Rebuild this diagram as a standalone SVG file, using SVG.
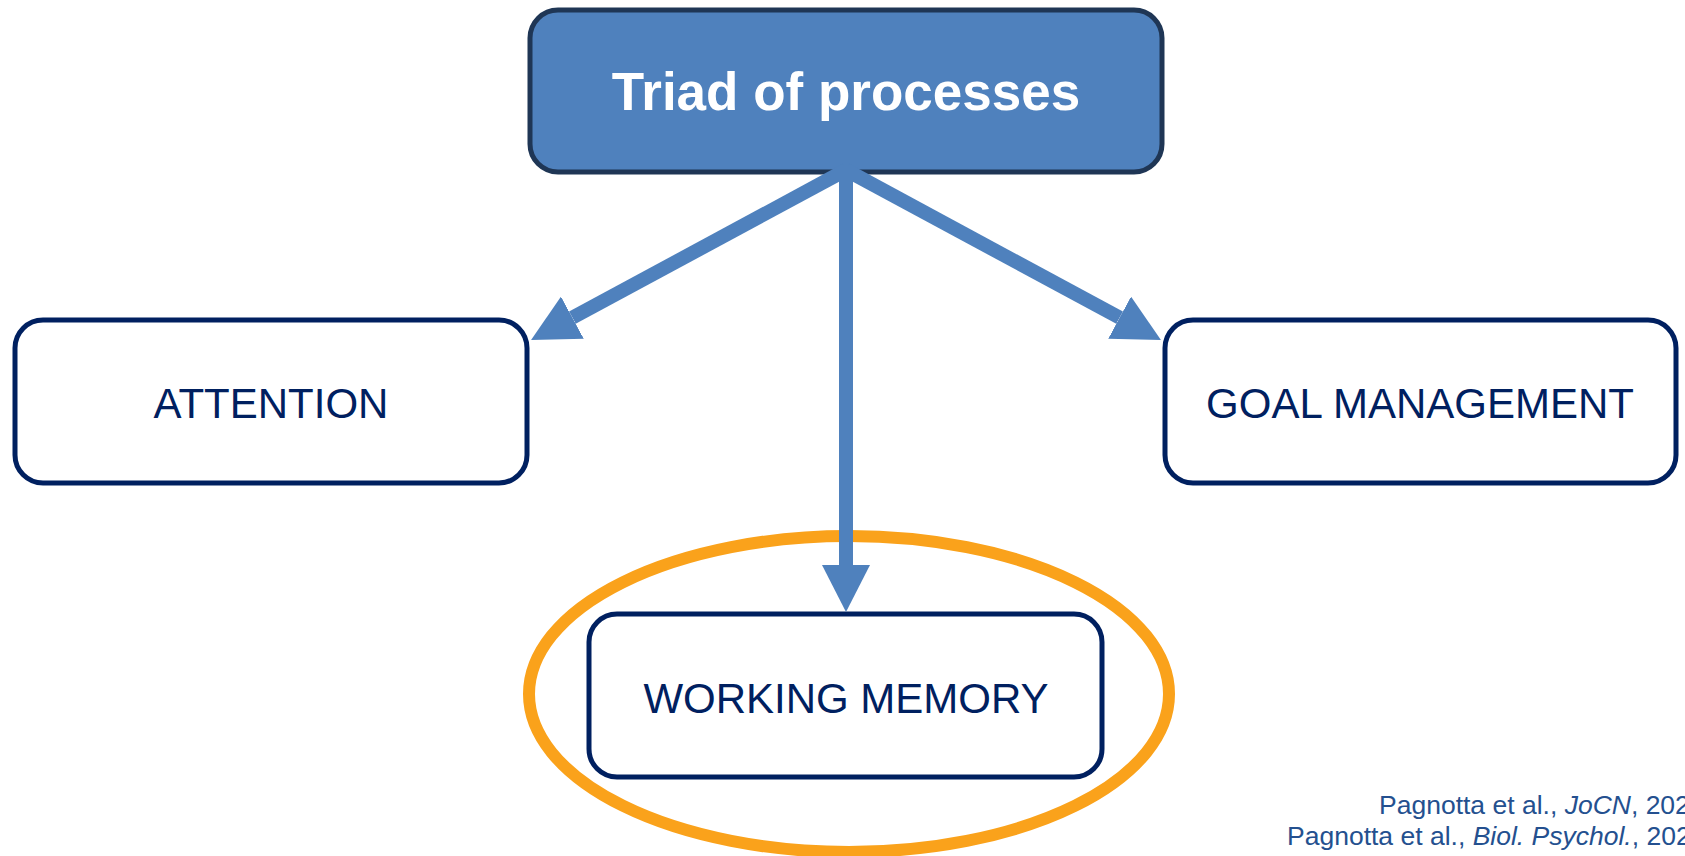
<svg xmlns="http://www.w3.org/2000/svg" width="1685" height="856" viewBox="0 0 1685 856">
  <defs>
    <style>
      .box { fill: #ffffff; stroke: #002060; stroke-width: 5; }
      .label { font-family: "Liberation Sans", Arial, sans-serif; font-size: 42px; fill: #002060; text-anchor: middle; }
      .title { font-family: "Liberation Sans", Arial, sans-serif; font-size: 53px; font-weight: bold; fill: #ffffff; text-anchor: middle; }
      .link { stroke: #4F81BD; stroke-width: 14; fill: none; }
      .cite { font-family: "Liberation Sans", Arial, sans-serif; font-size: 26.5px; fill: #24508F; }
    </style>
    <marker id="arrowhead" markerUnits="userSpaceOnUse" markerWidth="48" markerHeight="48" refX="0" refY="24" orient="auto" viewBox="0 0 48 48">
      <path d="M0,0 L47,24 L0,48 Z" fill="#4F81BD"/>
    </marker>
  </defs>

  <rect width="1685" height="856" fill="#ffffff"/>

  <!-- highlight ring around the working-memory node -->
  <ellipse id="highlight" cx="849" cy="694" rx="320" ry="158" fill="none" stroke="#FAA21B" stroke-width="12"/>

  <g id="triad">
    <rect x="530" y="10" width="632" height="162" rx="28" ry="28" fill="#4F81BD" stroke="#1F3655" stroke-width="5"/>
    <text class="title" x="846" y="110">Triad of processes</text>
  </g>

  <g id="attention">
    <rect class="box" x="15" y="320" width="512" height="163" rx="28" ry="28"/>
    <text class="label" x="271" y="418">ATTENTION</text>
  </g>

  <g id="goal-management">
    <rect class="box" x="1165" y="320" width="511" height="163" rx="28" ry="28"/>
    <text class="label" x="1420" y="418">GOAL MANAGEMENT</text>
  </g>

  <g id="working-memory">
    <rect class="box" x="589" y="614" width="513" height="163" rx="28" ry="28"/>
    <text class="label" x="846" y="713">WORKING MEMORY</text>
  </g>

  <g id="connectors">
    <line class="link" x1="846" y1="170" x2="572.4" y2="317.7" marker-end="url(#arrowhead)"/>
    <line class="link" x1="846" y1="170" x2="1119.6" y2="317.7" marker-end="url(#arrowhead)"/>
    <line class="link" x1="846" y1="166" x2="846" y2="565" marker-end="url(#arrowhead)"/>
  </g>

  <g id="references">
    <text class="cite" x="1379" y="814">Pagnotta et al., <tspan font-style="italic">JoCN</tspan>, 202</text>
    <text class="cite" x="1287" y="845">Pagnotta et al., <tspan font-style="italic">Biol. Psychol.</tspan>, 202</text>
  </g>
</svg>
